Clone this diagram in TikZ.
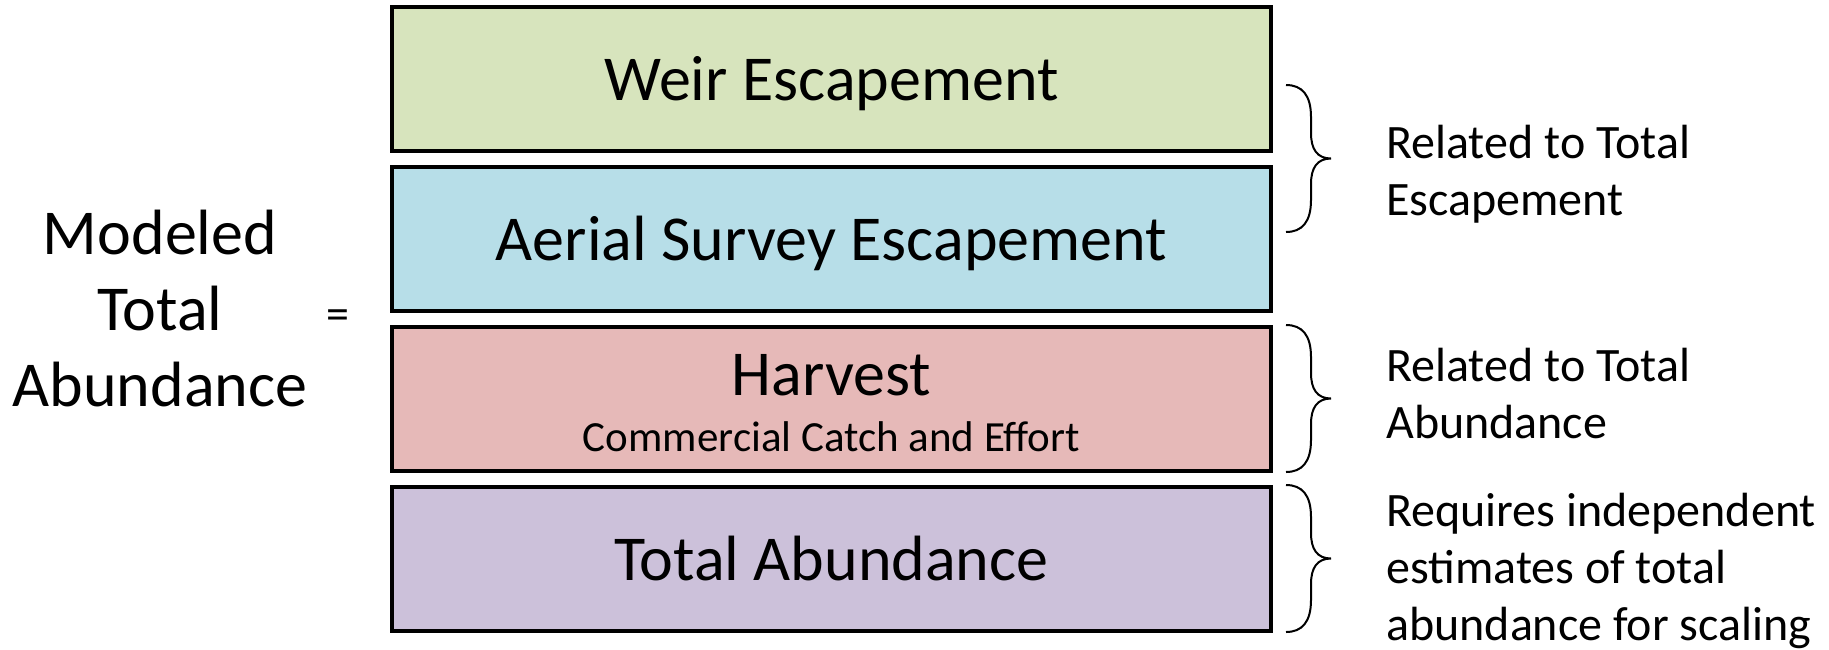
\documentclass[tikz,border=0pt]{standalone}
\usepackage{fontspec}
\setmainfont{Carlito}
\usetikzlibrary{positioning}
\definecolor{weirgreen}{HTML}{D7E4BD}
\definecolor{aerialblue}{HTML}{B7DEE8}
\definecolor{harvestpink}{HTML}{E6B9B8}
\definecolor{totalpurple}{HTML}{CCC1DA}
\tikzset{
    rbrace/.pic={
        \draw[line width=2] (0,0) .. controls (16,0) and (25,10) .. (25,32) -- (25,48)
            .. controls (25,64) and (31,73.5) .. (45,73.5)
            .. controls (31,73.5) and (25,83) .. (25,99) -- (25,115)
            .. controls (25,137) and (16,147) .. (0,147);
    }
}

\begin{document}
\begin{tikzpicture}[x=1pt,y=-1pt,
        box/.style={shape=rectangle,draw=black,line width=4,minimum width=879,minimum height=144,inner sep=0},
        boxtext/.style={font=\fontsize{64}{76}\selectfont,inner sep=0,anchor=base},
        note/.style={font=\fontsize{48}{57}\selectfont,align=left,inner sep=0,anchor=base west}]
        \useasboundingbox (0,0) rectangle (1829,649);

        \node (weir) at (831.5,79) [box,fill=weirgreen] {};
        \node (aerial) at (831.5,239) [box,fill=aerialblue] {};
        \node (harvest) at (831.5,399) [box,fill=harvestpink] {};
        \node (total) at (831.5,559) [box,fill=totalpurple] {};

        \node (weirtxt) at ([yshift=-21]weir.center) [boxtext] {Weir Escapement};
        \node (aerialtxt) at ([yshift=-21]aerial.center) [boxtext] {Aerial Survey Escapement};
        \node (harvesttxt) at ([yshift=4]harvest.center) [boxtext] {Harvest};
        \node (harvestsub) at ([yshift=-52]harvest.center) [boxtext,font=\fontsize{43}{50}\selectfont] {Commercial Catch and Effort};
        \node (totaltxt) at ([yshift=-21]total.center) [boxtext] {Total Abundance};

        \node (modeled) at (160,309) [font=\fontsize{64}{76}\selectfont,align=center,inner sep=0] {Modeled\\Total\\Abundance};
        \node (equals) at (338,320) [font=\fontsize{46}{54}\selectfont,inner sep=0] {=};

        \pic at (1286,85) {rbrace};
        \pic at (1286,325) {rbrace};
        \pic at (1286,485) {rbrace};

        \node (escnote) at (1386,215) [note] {Related to Total\\Escapement};
        \node (abdnote) at (1386,438) [note] {Related to Total\\Abundance};
        \node (scalenote) at (1386,640) [note] {Requires independent\\estimates of total\\abundance for scaling};
    \end{tikzpicture}
\end{document}
